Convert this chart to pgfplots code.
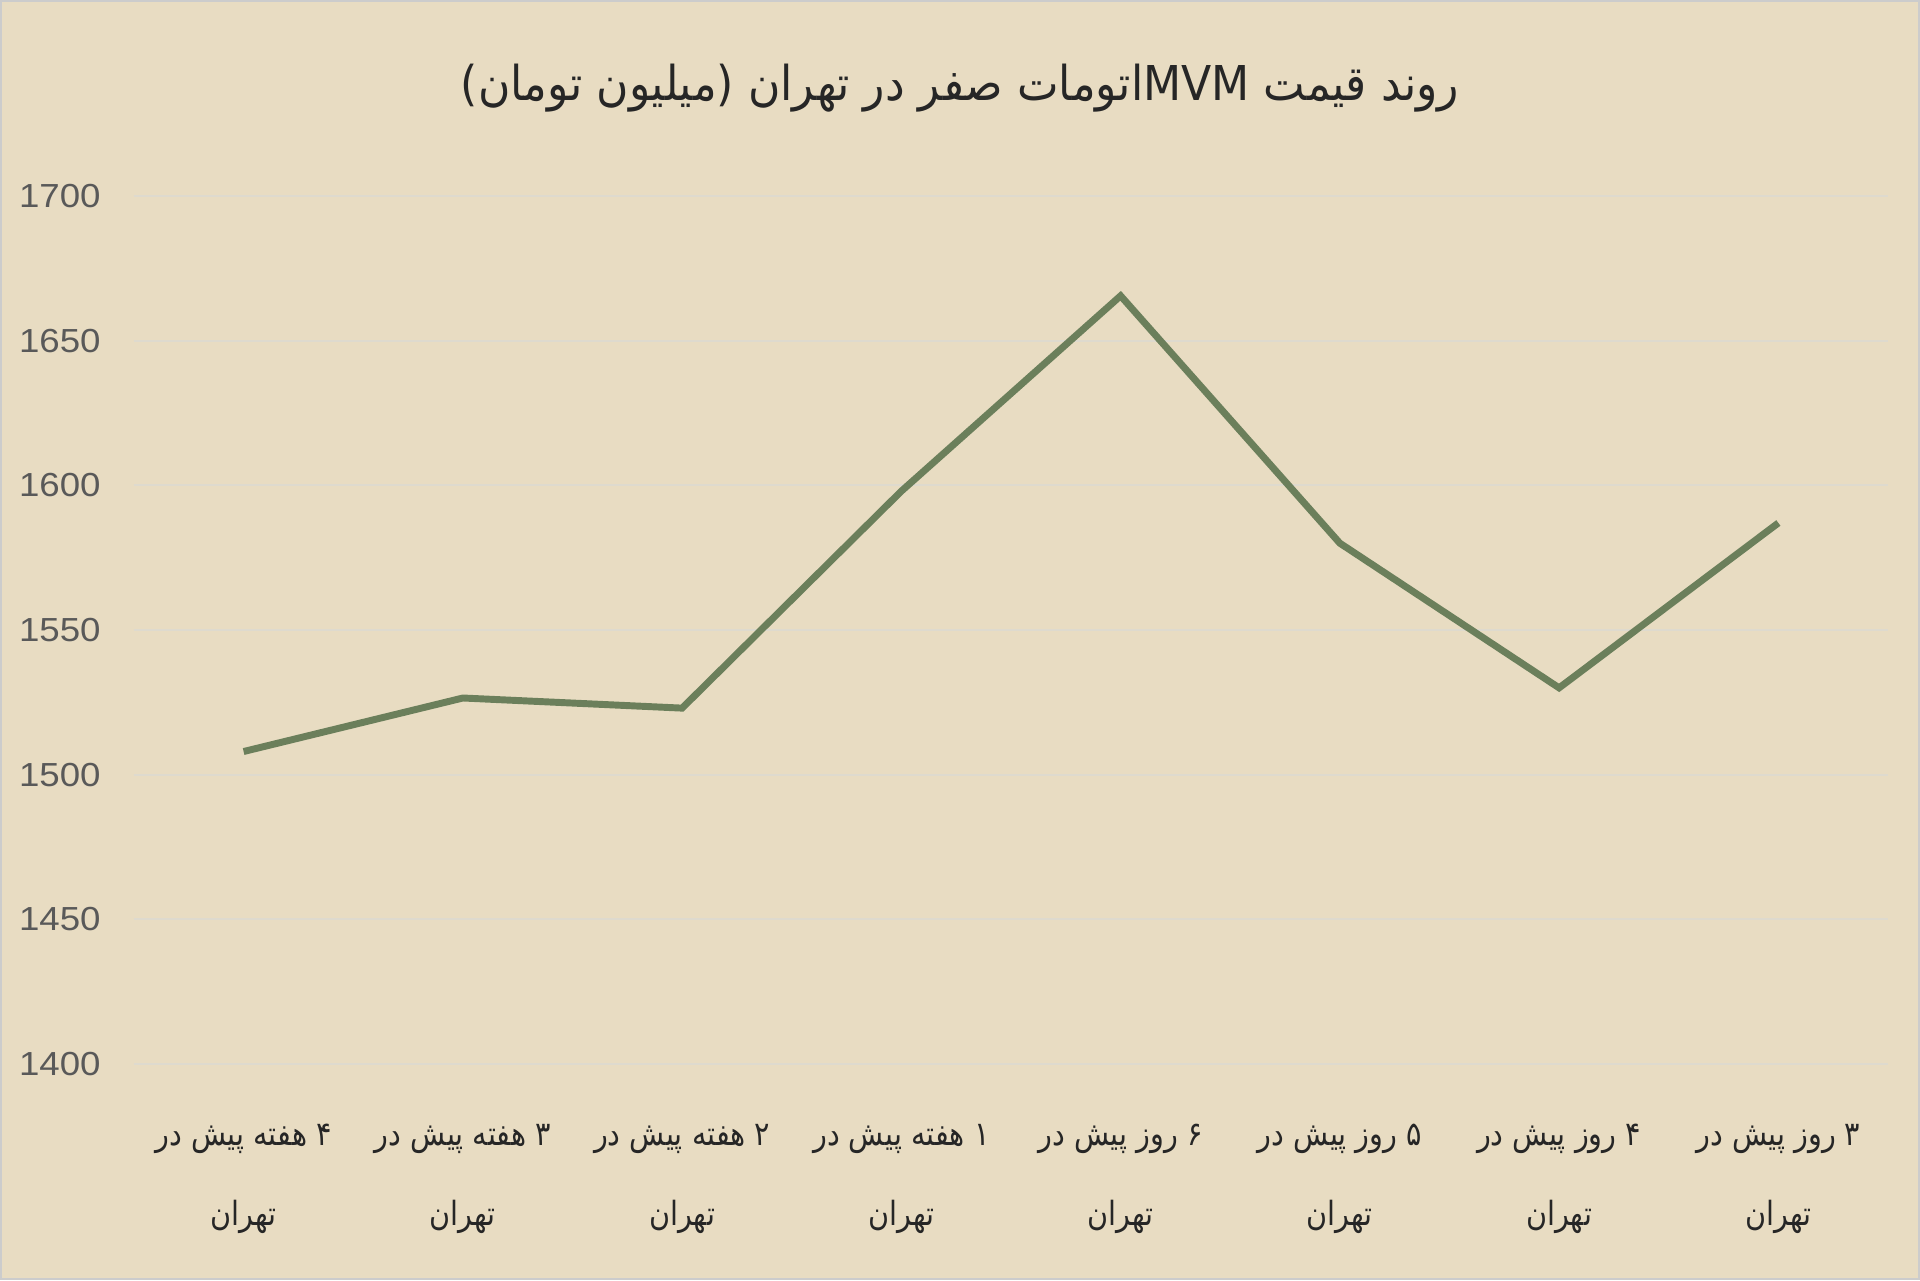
\documentclass[border=0pt]{standalone}
\usepackage{fontspec}
\usepackage{graphicx}
\usepackage{pgfplots}
\pgfplotsset{compat=1.18}
\setmainfont{Liberation Sans}
\TeXXeTstate=1
\newfontfamily\arabicfont[Script=Arabic]{DejaVu Sans}
\definecolor{bgc}{RGB}{232,220,194}
\definecolor{linec}{RGB}{107,127,91}
\definecolor{gridc}{RGB}{222,218,206}
\definecolor{tickc}{RGB}{89,89,89}
\newcommand{\sx}[1]{\scalebox{0.86}[1]{#1}}
\begin{document}
\begin{tikzpicture}
\fill[bgc] (0,0) rectangle (720pt,480pt);
\draw[gray!40, line width=0.8pt] (0.4pt,0.4pt) rectangle (719.6pt,479.6pt);
\useasboundingbox (0,0) rectangle (720pt,480pt);
\node[font=\arabicfont\fontsize{18}{21}\selectfont, text=black!85] at (360pt,447pt)
  {\scalebox{0.92}[1]{\beginR روند قیمت  \beginL MVM\endL اتومات صفر در تهران (میلیون تومان)\endR}};
\begin{axis}[
  at={(50.25pt,81pt)}, anchor=south west,
  scale only axis, width=657.75pt, height=325.5pt,
  xmin=-0.5, xmax=7.5, ymin=1400, ymax=1700,
  axis line style={draw=none},
  ytick={1400,1450,...,1700},
  xtick={0,...,7},
  ymajorgrids, grid style={gridc, line width=0.8pt},
  major tick length=0pt,
  /pgf/number format/.cd, 1000 sep={}, assume math mode=true, /pgfplots/.cd,
  yticklabel style={font=\fontsize{12.5}{14}\selectfont, text=tickc, xshift=-9pt},
  yticklabel={\scalebox{1.1}[1]{\pgfmathprintnumber{\tick}}},
  xticklabel style={font=\arabicfont\fontsize{12.5}{30}\selectfont, text=black!85, align=center, yshift=-19pt},
  xticklabels={
    {\sx{\beginR ۴ هفته پیش در\endR}\\\sx{\beginR تهران\endR}},
    {\sx{\beginR ۳ هفته پیش در\endR}\\\sx{\beginR تهران\endR}},
    {\sx{\beginR ۲ هفته پیش در\endR}\\\sx{\beginR تهران\endR}},
    {\sx{\beginR ۱ هفته پیش در\endR}\\\sx{\beginR تهران\endR}},
    {\sx{\beginR ۶ روز پیش در\endR}\\\sx{\beginR تهران\endR}},
    {\sx{\beginR ۵ روز پیش در\endR}\\\sx{\beginR تهران\endR}},
    {\sx{\beginR ۴ روز پیش در\endR}\\\sx{\beginR تهران\endR}},
    {\sx{\beginR ۳ روز پیش در\endR}\\\sx{\beginR تهران\endR}}},
  clip=false,
]
\addplot[linec, line width=2.6pt, no markers, line join=miter] coordinates {
  (0,1508) (1,1526.5) (2,1523) (3,1598) (4,1665.5) (5,1580) (6,1530) (7,1587)
};
\end{axis}
\end{tikzpicture}
\end{document}
